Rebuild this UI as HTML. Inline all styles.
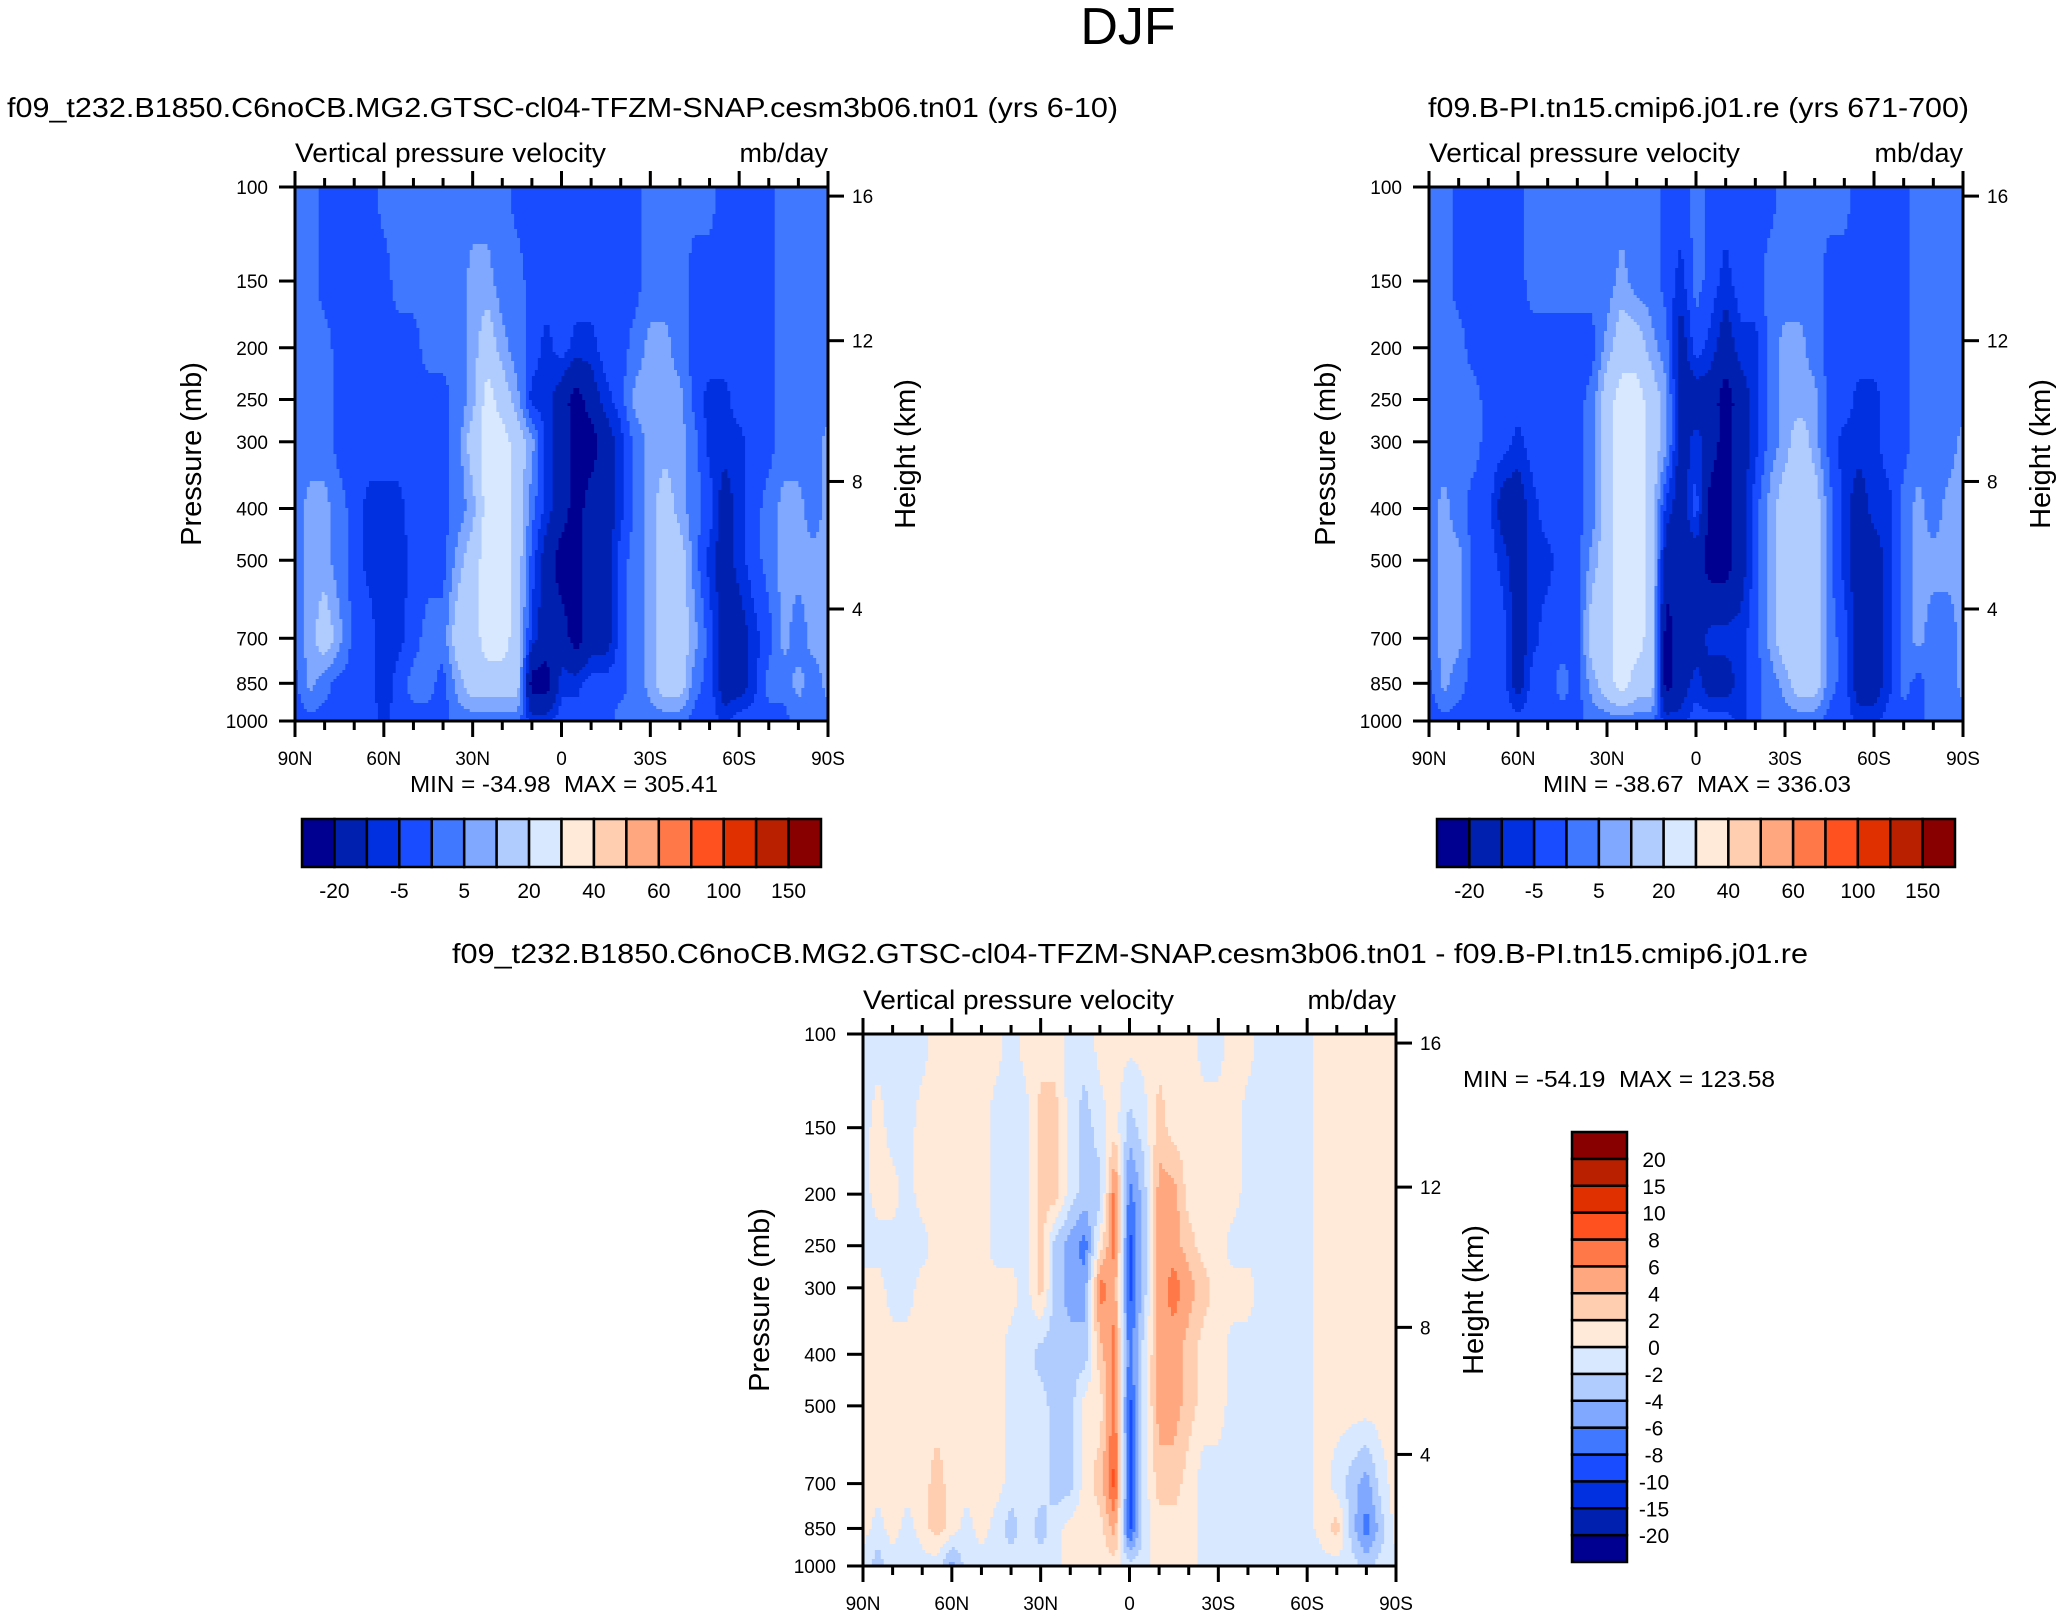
<!DOCTYPE html>
<html><head><meta charset="utf-8">
<style>
html,body{margin:0;padding:0;background:#fff;}
svg{display:block;font-family:"Liberation Sans",Arial,sans-serif;}
</style></head>
<body>
<svg id="fig" width="2062" height="1616" viewBox="0 0 2062 1616" xmlns="http://www.w3.org/2000/svg">
<rect x="0" y="0" width="2062" height="1616" fill="#fff"/>
<text x="1128" y="44" font-size="52" text-anchor="middle">DJF</text>
</svg>
<script>
// ---------- shared data ----------
const levels = [100,150,200,250,300,400,500,700,850,1000];
const lats = [90,85,80,75,70,65,60,55,50,45,40,35,30,25,20,15,10,5,0,-5,-10,-15,-20,-25,-30,-35,-40,-45,-50,-55,-60,-65,-70,-75,-80,-85,-90];
const palette = ["#000090","#0020b0","#0030e0","#1a4cff","#4078ff","#80a8ff","#b0ccff","#d8e8ff","#ffe9d9","#ffcdb0","#ffa880","#ff7848","#ff5020","#e03000","#b82000","#880000"];
const bounds1 = [-20,-10,-5,0,5,10,20,30,40,50,60,80,100,120,150];
const barLabels1 = ["-20","-5","5","20","40","60","100","150"];
const bounds3 = [-20,-15,-10,-8,-6,-4,-2,0,2,4,6,8,10,15,20];
const barLabels3 = ["-20","-15","-10","-8","-6","-4","-2","0","2","4","6","8","10","15","20"];
const pTicks = [100,150,200,250,300,400,500,700,850,1000];
const latTickLabels = ["90N","60N","30N","0","30S","60S","90S"];
const latMajor = [90,60,30,0,-30,-60,-90];
const heightLabels = [16,12,8,4];
const heightPressures = [104,194,356,617];

// panel 1 field (rows = levels, cols = lats)
const field1_100 = [2,2,-2,-2,-2,-2,2,2,2,2,2,2,2,2,2,-2,-2,-2,-2,-2,-2,-2,-2,-2,2,2,2,2,2,-2,-2,-2,-2,2,2,2,2];
const field1_150 = [2,2,-2,-2,-2,-2,-2,2,2,2,2,2,7,7,2,2,-2,-2,-2,-2,-2,-2,-2,-2,2,2,2,-2,-2,-2,-2,-2,-2,2,2,2,2];
const field1_200 = [2,2,2,-2,-2,-2,-2,-2,-2,2,2,2,7,15,7,2,-2,-7,-2,-7,-7,-2,-2,2,7,7,2,-2,-2,-2,-2,-2,-2,2,2,2,2];
const field1_250 = [2,2,2,-2,-2,-2,-2,-2,-2,-2,-2,2,7,25,15,7,-7,-7,-15,-25,-15,-7,-2,7,7,7,7,-2,-7,-7,-2,-2,-2,2,2,2,2];
const field1_300 = [2,2,2,-2,-2,-2,-2,-2,-2,-2,-2,2,15,25,25,15,7,-7,-15,-25,-25,-15,-7,2,7,7,7,2,-7,-7,-7,-2,-2,2,2,2,7];
const field1_400 = [2,7,7,2,-2,-7,-7,-7,-2,-2,-2,2,7,25,25,15,2,-7,-15,-25,-15,-15,-7,2,7,15,7,2,-2,-15,-7,-2,2,7,7,2,7];
const field1_500 = [2,7,7,2,-2,-7,-9,-7,-4,-2,-2,7,15,25,25,15,-2,-15,-25,-25,-15,-15,-2,2,7,15,15,2,-7,-15,-7,-2,2,7,7,7,7];
const field1_700 = [2,7,15,7,-2,-2,-9,-7,-2,2,2,15,15,25,25,15,-7,-15,-15,-25,-15,-15,-2,2,7,15,15,7,-2,-15,-15,-7,-2,7,2,7,7];
const field1_850 = [-2,7,2,-2,-2,-2,-9,-2,2,2,-2,7,15,15,15,15,-25,-25,-7,-7,-2,-2,-2,2,7,15,15,2,-2,-15,-15,-7,2,2,7,2,7];
const field1_1000 = [-2,-2,-2,-2,-2,-2,-7,-2,-2,-2,-2,2,2,2,2,2,-7,-7,-2,-2,-2,-2,2,2,2,2,2,-2,-2,-7,-2,-2,-2,-2,2,2,2];

// panel 2 field
const field2_100 = [2,2,-2,-2,-2,-2,-2,2,2,2,2,2,2,2,2,2,-2,-2,2,-2,-2,-2,-2,-2,2,2,2,2,2,-2,-2,-2,-2,2,2,2,2];
const field2_150 = [2,2,-2,-2,-2,-2,-2,2,2,2,2,2,2,7,2,2,-2,-7,2,-2,-7,-2,-2,2,2,2,2,-2,-2,-2,-2,-2,-2,2,2,2,2];
const field2_200 = [2,2,2,-2,-2,-2,-2,-2,-2,-2,-2,-2,7,15,15,7,2,-15,-2,-7,-15,-7,-7,2,7,7,2,-2,-2,-2,-2,-2,-2,2,2,2,2];
const field2_250 = [2,2,2,2,-2,-2,-2,-2,-2,-2,-2,2,15,25,25,15,7,-15,-15,-15,-25,-15,-7,2,7,7,7,-2,-2,-7,-7,-2,-2,2,2,2,2];
const field2_300 = [2,2,2,2,-2,-2,-7,-2,-2,-2,-2,2,15,25,25,15,7,-15,-7,-15,-25,-15,-7,2,7,15,7,-2,-7,-7,-7,-2,-2,2,2,2,7];
const field2_400 = [2,7,2,-2,-2,-15,-15,-7,-2,-2,-2,2,15,25,25,15,-7,-15,-2,-25,-25,-15,-2,7,15,15,15,2,-7,-15,-7,-7,2,7,2,7,7];
const field2_500 = [2,7,7,-2,-2,-7,-15,-7,-7,-2,-2,7,15,25,25,15,-15,-15,-15,-25,-25,-15,-2,7,15,15,15,2,-7,-15,-15,-7,2,7,7,7,7];
const field2_700 = [2,7,7,-2,-2,-2,-15,-7,-2,-2,-2,15,15,25,25,15,-25,-15,-15,-7,-7,-7,-2,7,15,15,15,2,-2,-15,-15,-7,2,7,2,2,7];
const field2_850 = [-2,7,2,-2,-2,-2,-15,-2,-2,2,-2,7,15,25,15,15,-25,-15,-7,-15,-15,-7,-2,2,7,15,15,2,-2,-15,-15,-7,2,-2,2,2,7];
const field2_1000 = [-2,-2,-2,-2,-2,-2,-2,-2,-2,-2,-2,2,2,2,2,2,-7,-7,-2,-2,-2,-7,-2,2,2,2,2,-2,-2,-7,-7,-2,-2,-2,2,2,2];

// difference field
const field3_100 = [-1,-1,-1,-1,-1,1,1,1,1,1,-1,1,1,1,-1,-1,1,1,1,1,1,1,1,-1,-1,1,1,-1,-1,-1,-1,1,1,1,1,1,1];
const field3_150 = [-1,1,-1,-1,1,1,1,1,1,-1,-1,-1,3,3,-1,-3,-1,1,-3,-1,3,1,1,1,1,1,-1,-1,-1,-1,-1,1,1,1,1,1,1];
const field3_200 = [-1,1,1,-1,1,1,1,1,1,-1,-1,-1,3,3,-1,-3,-3,7,-7,-3,5,5,1,1,1,1,-1,-1,-1,-1,-1,1,1,1,1,1,1];
const field3_250 = [-1,-1,-1,-1,-1,1,1,1,1,-1,-1,-1,3,-3,-5,-7,1,7,-9,-3,5,5,3,1,1,-1,-1,-1,-1,-1,-1,1,1,1,1,1,1];
const field3_300 = [1,1,-1,-1,1,1,1,1,1,1,1,-1,3,-3,-5,-5,7,5,-9,-3,5,7,5,3,1,1,1,-1,-1,-1,-1,1,1,1,1,1,1];
const field3_400 = [1,1,1,1,1,1,1,1,1,1,-1,-1,-3,-3,-3,-3,3,7,-7,-1,5,5,3,1,1,-1,-1,-1,-1,-1,-1,1,1,1,1,1,1];
const field3_500 = [1,1,1,1,1,1,1,1,1,1,-1,-1,-1,-3,-3,1,1,7,-9,-1,5,5,3,1,1,-1,-1,-1,-1,-1,-1,1,1,1,1,1,1];
const field3_700 = [1,1,1,1,1,3,1,1,1,1,-1,-1,-1,-3,-3,1,3,9,-9,-1,3,3,1,-1,-1,-1,-1,-1,-1,-1,-1,1,-1,-3,-5,-1,1];
const field3_850 = [1,-1,1,-1,1,3,1,-1,1,-1,-3,-1,-3,-1,1,1,1,5,-9,-1,1,1,1,-1,-1,-1,-1,-1,-1,-1,-1,1,3,-3,-7,-3,1];
const field3_1000 = [-1,-3,-1,-1,-1,-1,-5,-1,-1,-1,-1,-1,-1,-1,1,1,1,1,-1,-1,1,1,1,-1,-1,-1,-1,-1,-1,-1,-1,-1,-1,-1,-3,-1,-1];

const field1 = [field1_100,field1_150,field1_200,field1_250,field1_300,field1_400,field1_500,field1_700,field1_850,field1_1000];
const field2 = [field2_100,field2_150,field2_200,field2_250,field2_300,field2_400,field2_500,field2_700,field2_850,field2_1000];
const field3 = [field3_100,field3_150,field3_200,field3_250,field3_300,field3_400,field3_500,field3_700,field3_850,field3_1000];

// ---------- rendering ----------
const NS = "http://www.w3.org/2000/svg";
const svg = document.getElementById('fig');
function mk(tag, attrs, parent){
  const e = document.createElementNS(NS, tag);
  for (const k in attrs) e.setAttribute(k, attrs[k]);
  (parent||svg).appendChild(e);
  return e;
}
function txt(s, attrs, parent){ const e = mk('text', attrs, parent); e.textContent = s; return e; }
function classOf(v, bounds){ let k=0; for (const b of bounds) if (v>=b) k++; return k; }

function drawPanel(P){
  const g = mk('g', {});
  
  
  const W = P.R-P.L, H = P.B-P.T;
  const xOf = lat => P.L + (90-lat)/180*W;
  const yOf = p => P.T + Math.log10(p/100)*H;
  const fg = mk('g', {}, g);
  
  
  const nc = 180, dy = 3;
  const colW = W/nc;
  for (let y0 = P.T; y0 < P.B; y0 += dy){
    const ym = Math.min(y0+dy/2, P.B);
    const p = 100*Math.pow(10, (ym-P.T)/H);
    let li = 0; while (li < levels.length-2 && levels[li+1] < p) li++;
    const t = Math.max(0, Math.min(1, (Math.log(p)-Math.log(levels[li]))/(Math.log(levels[li+1])-Math.log(levels[li]))));
    let runStart = 0, runCls = -1;
    const flush = (end) => {
      if (runCls < 0) return;
      const r = mk('rect', {x:(P.L+runStart*colW).toFixed(2), y:y0.toFixed(2), width:((end-runStart)*colW+0.6).toFixed(2), height:(Math.min(dy, P.B-y0)+0.6).toFixed(2), fill:palette[runCls]}, fg);
      
      
    };
    for (let c = 0; c < nc; c++){
      const lat = 90 - (c+0.5)*180/nc;
      let ci = 0; while (ci < lats.length-2 && lats[ci+1] > lat) ci++;
      const s = (lats[ci]-lat)/(lats[ci]-lats[ci+1]);
      const f = P.field;
      const v = (1-t)*((1-s)*f[li][ci] + s*f[li][ci+1]) + t*((1-s)*f[li+1][ci] + s*f[li+1][ci+1]);
      const k = classOf(v, P.bounds);
      if (k !== runCls){ flush(c); runStart = c; runCls = k; }
    }
    flush(nc);
  }
  const fr = mk('rect', {x:P.L, y:P.T, width:W, height:H, fill:'none', stroke:'#000', 'stroke-width':3}, g);
  
  
  for (let lat = 90; lat >= -90; lat -= 10){
    const major = lat % 30 === 0;
    const x = xOf(lat), len = major ? 16 : 9;
    mk('line', {x1:x, y1:P.B, x2:x, y2:P.B+len, stroke:'#000', 'stroke-width':3}, g);
    mk('line', {x1:x, y1:P.T, x2:x, y2:P.T-len, stroke:'#000', 'stroke-width':3}, g);
  }
  latMajor.forEach((lat,i) => {
    const t = txt(latTickLabels[i], {x:xOf(lat), y:P.B+44, 'font-size':19, 'text-anchor':'middle'}, g);
    
    
  });
  pTicks.forEach(p => {
    const y = yOf(p);
    mk('line', {x1:P.L-16, y1:y, x2:P.L, y2:y, stroke:'#000', 'stroke-width':3}, g);
    const t = txt(String(p), {x:P.L-27, y:y+7, 'font-size':19, 'text-anchor':'end'}, g);
    
    
  });
  heightLabels.forEach((h,i) => {
    const y = yOf(heightPressures[i]);
    mk('line', {x1:P.R, y1:y, x2:P.R+16, y2:y, stroke:'#000', 'stroke-width':3}, g);
    const t = txt(String(h), {x:P.R+24, y:y+7, 'font-size':19}, g);
    
    
  });
  const yt = txt('Pressure (mb)', {x:0, y:0, 'font-size':29, 'text-anchor':'middle', transform:`translate(${P.L-94},${(P.T+P.B)/2}) rotate(-90)`}, g);
  
  
  const ht = txt('Height (km)', {x:0, y:0, 'font-size':29, 'text-anchor':'middle', transform:`translate(${P.R+87},${(P.T+P.B)/2}) rotate(-90)`}, g);
  
  
  const vt = txt('Vertical pressure velocity', {x:P.L, y:P.T-25, 'font-size':27, textLength:311, lengthAdjust:'spacingAndGlyphs'}, g);
  
  
  const ut = txt('mb/day', {x:P.R, y:P.T-25, 'font-size':27, 'text-anchor':'end'}, g);
  
  
}

function hbar(x0, x1, y0, y1, bounds, labels, name){
  const g = mk('g', {});
  
  
  const n = palette.length, w = (x1-x0)/n;
  palette.forEach((c,i) => {
    const r = mk('rect', {x:x0+i*w, y:y0, width:w, height:y1-y0, fill:c, stroke:'#000', 'stroke-width':2.5}, g);
    
    
  });
  labels.forEach((s,i) => {
    const t = txt(s, {x:x0+(2*i+1)*w, y:y1+31, 'font-size':21, 'text-anchor':'middle'}, g);
    
    
  });
}
function vbar(x0, x1, y0, y1, labels, name){
  const g = mk('g', {});
  
  
  const n = palette.length, h = (y1-y0)/n;
  palette.forEach((c,i) => {
    const r = mk('rect', {x:x0, y:y1-(i+1)*h, width:x1-x0, height:h, fill:c, stroke:'#000', 'stroke-width':2.5}, g);
    
    
  });
  labels.forEach((s,i) => {
    const t = txt(s, {x:x1+27, y:y1-(i+1)*h+8, 'font-size':21, 'text-anchor':'middle'}, g);
    
    
  });
}

drawPanel({name:'panel-test', L:295, R:828, T:187, B:721, field:field1, bounds:bounds1});
drawPanel({name:'panel-control', L:1429, R:1963, T:187, B:721, field:field2, bounds:bounds1});
drawPanel({name:'panel-difference', L:863, R:1396, T:1034, B:1566, field:field3, bounds:bounds3});

hbar(302, 821, 819, 867, bounds1, barLabels1, 'colorbar-test');
hbar(1437, 1955, 819, 867, bounds1, barLabels1, 'colorbar-control');
vbar(1572, 1627, 1132, 1562, barLabels3, 'colorbar-difference');

const T = [
 ['f09_t232.B1850.C6noCB.MG2.GTSC-cl04-TFZM-SNAP.cesm3b06.tn01 (yrs 6-10)', 7, 117, 'start', 1111, 'subtitle-test'],
 ['f09.B-PI.tn15.cmip6.j01.re (yrs 671-700)', 1428, 117, 'start', 541, 'subtitle-control'],
 ['f09_t232.B1850.C6noCB.MG2.GTSC-cl04-TFZM-SNAP.cesm3b06.tn01 - f09.B-PI.tn15.cmip6.j01.re', 452, 963, 'start', 1356, 'subtitle-difference'],
 ['MIN = -34.98  MAX = 305.41', 410, 792, 'start', 308, 'minmax-test'],
 ['MIN = -38.67  MAX = 336.03', 1543, 792, 'start', 308, 'minmax-control'],
 ['MIN = -54.19  MAX = 123.58', 1463, 1087, 'start', 312, 'minmax-difference']
];
T.forEach(a => {
  const t = txt(a[0], {x:a[1], y:a[2], 'font-size':a[5].startsWith('minmax')?23:28, 'text-anchor':a[3], textLength:a[4], lengthAdjust:'spacingAndGlyphs', style:'white-space:pre'});
  
  
});
</script>
</body></html>
